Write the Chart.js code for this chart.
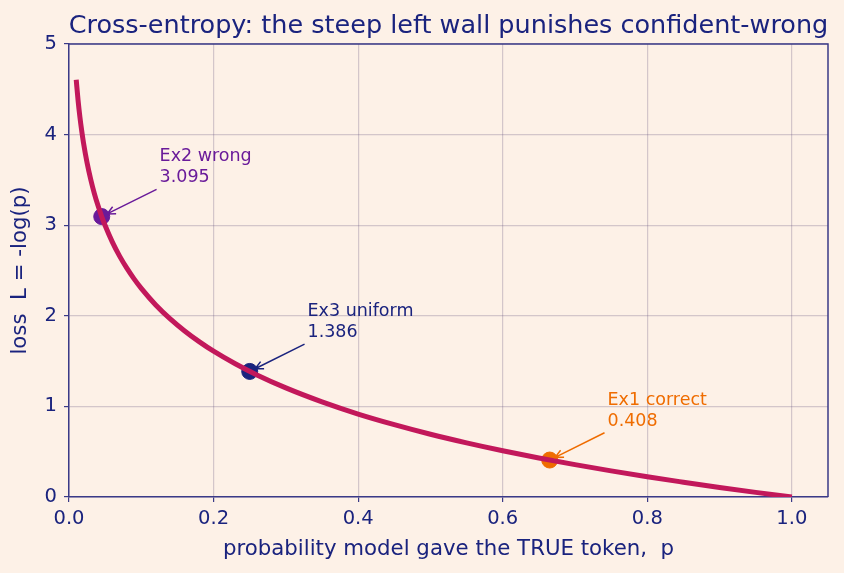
<!DOCTYPE html>
<html>
<head>
<meta charset="utf-8">
<script src="https://cdn.jsdelivr.net/npm/chart.js@4/dist/chart.umd.min.js"></script>
<style>
  body { margin: 0; background: #fdf1e7; }
  #box { width: 844px; height: 573px; }
</style>
</head>
<body>
<div id="box"><canvas id="grafico" width="844" height="573"></canvas></div>
<script>
// curva L = -log(p)
let probs = [0.01, 0.0125, 0.015, 0.0175, 0.02, 0.025, 0.03, 0.035, 0.04, 0.045, 0.05, 0.06, 0.07, 0.08, 0.09, 0.1, 0.12, 0.14, 0.16, 0.18, 0.2, 0.23, 0.26, 0.3, 0.35, 0.4, 0.45, 0.5, 0.55, 0.6, 0.65, 0.7, 0.75, 0.8, 0.85, 0.9, 0.95, 1.0]
let perdas = [4.605, 4.382, 4.200, 4.046, 3.912, 3.689, 3.507, 3.352, 3.219, 3.101, 2.996, 2.813, 2.659, 2.526, 2.408, 2.303, 2.120, 1.966, 1.833, 1.715, 1.609, 1.470, 1.347, 1.204, 1.050, 0.916, 0.799, 0.693, 0.598, 0.511, 0.431, 0.357, 0.288, 0.223, 0.163, 0.105, 0.051, 0.0]

// exemplos marcados
let exNomes = ['Ex2 wrong', 'Ex3 uniform', 'Ex1 correct']
let exP = [0.0453, 0.25, 0.665]
let exL = [3.095, 1.386, 0.408]
let exCores = ['#6a1b9a', '#1a237e', '#ef6c00']

let xTicks = [0.0, 0.2, 0.4, 0.6, 0.8, 1.0]
let yTicks = [0, 1, 2, 3, 4, 5]

let azul = '#1a237e'
let moldura = '#3a3a88'
let grade = 'rgba(100, 80, 125, 0.27)'

let curva = probs.map((p, i) => ({ x: p, y: perdas[i] }))

let datasets = [{
    data: curva,
    borderColor: '#c2185b',
    borderWidth: 5,
    pointRadius: 0,
    cubicInterpolationMode: 'monotone',
    fill: false
}]
for (let i = 0; i < exP.length; i++) {
    datasets.push({
        type: 'scatter',
        data: [{ x: exP[i], y: exL[i] }],
        backgroundColor: exCores[i],
        borderColor: exCores[i],
        pointRadius: 8,
        pointHoverRadius: 8
    })
}

// titulo, moldura e anotacoes
let extras = {
    id: 'extras',
    afterDatasetsDraw(chart) {
        let ctx = chart.ctx
        let a = chart.chartArea
        let xs = chart.scales.x
        let ys = chart.scales.y
        ctx.save()
        ctx.strokeStyle = moldura
        ctx.lineWidth = 1.5
        ctx.beginPath()
        ctx.moveTo(a.left, a.top)
        ctx.lineTo(a.right, a.top)
        ctx.lineTo(a.right, a.bottom)
        ctx.stroke()

        ctx.fillStyle = azul
        ctx.font = '25.5px "DejaVu Sans"'
        ctx.textAlign = 'center'
        ctx.textBaseline = 'alphabetic'
        ctx.fillText('Cross-entropy: the steep left wall punishes confident-wrong', (a.left + a.right) / 2, 33)

        ctx.font = '17.5px "DejaVu Sans"'
        ctx.textAlign = 'left'
        for (let i = 0; i < exP.length; i++) {
            let tx = xs.getPixelForValue(exP[i] + 0.08)
            let ty = ys.getPixelForValue(exL[i] + 0.4) + 2
            let px = xs.getPixelForValue(exP[i])
            let py = ys.getPixelForValue(exL[i])
            ctx.fillStyle = exCores[i]
            ctx.fillText(exNomes[i], tx, ty - 21)
            ctx.fillText(exL[i].toFixed(3), tx, ty)

            let sx = tx - 3, sy = ty + 7
            let ang = Math.atan2(py - sy, px - sx)
            let ex = px - Math.cos(ang) * 6
            let ey = py - Math.sin(ang) * 6
            ctx.strokeStyle = exCores[i]
            ctx.lineWidth = 1.5
            ctx.beginPath()
            ctx.moveTo(sx, sy)
            ctx.lineTo(ex, ey)
            ctx.moveTo(ex - Math.cos(ang - 0.45) * 9, ey - Math.sin(ang - 0.45) * 9)
            ctx.lineTo(ex, ey)
            ctx.lineTo(ex - Math.cos(ang + 0.45) * 9, ey - Math.sin(ang + 0.45) * 9)
            ctx.stroke()
        }
        ctx.restore()
    }
}

let fundo = {
    id: 'fundo',
    beforeDraw(chart) {
        let ctx = chart.ctx
        ctx.save()
        ctx.fillStyle = '#fdf1e7'
        ctx.fillRect(0, 0, chart.width, chart.height)
        ctx.restore()
    }
}

let ctx = document.getElementById('grafico').getContext('2d')
new Chart(ctx, {
    type: 'line',
    data: { datasets: datasets },
    plugins: [fundo, extras],
    options: {
        responsive: false,
        animation: false,
        layout: { padding: { top: 44, right: 16, left: 0, bottom: 0 } },
        plugins: {
            legend: { display: false },
            tooltip: { enabled: false }
        },
        scales: {
            x: {
                type: 'linear',
                min: 0,
                max: 1.05,
                afterBuildTicks: (s) => { s.ticks = xTicks.map(v => ({ value: v })) },
                afterFit: (s) => { s.height = 76 },
                grid: { color: grade, tickColor: moldura, tickLength: 5, lineWidth: 1.2 },
                border: { color: moldura, width: 1.5 },
                ticks: {
                    color: azul,
                    padding: 5,
                    maxRotation: 0,
                    font: { family: 'DejaVu Sans', size: 19.5 },
                    callback: (v) => v.toFixed(1)
                },
                title: {
                    display: true,
                    text: 'probability model gave the TRUE token,  p',
                    color: azul,
                    font: { family: 'DejaVu Sans', size: 21.3 },
                    padding: { top: 0, bottom: 11.2 }
                }
            },
            y: {
                min: 0,
                max: 5,
                afterBuildTicks: (s) => { s.ticks = yTicks.map(v => ({ value: v })) },
                afterFit: (s) => { s.width = 69 },
                grid: { color: grade, tickColor: moldura, tickLength: 5, lineWidth: 1.2 },
                border: { color: moldura, width: 1.5 },
                ticks: {
                    color: azul,
                    padding: 7,
                    font: { family: 'DejaVu Sans', size: 19.5 }
                },
                title: {
                    display: true,
                    text: 'loss  L = -log(p)',
                    color: azul,
                    font: { family: 'DejaVu Sans', size: 21.3 },
                    padding: { top: 8, bottom: 0 }
                }
            }
        }
    }
})
</script>
</body>
</html>
